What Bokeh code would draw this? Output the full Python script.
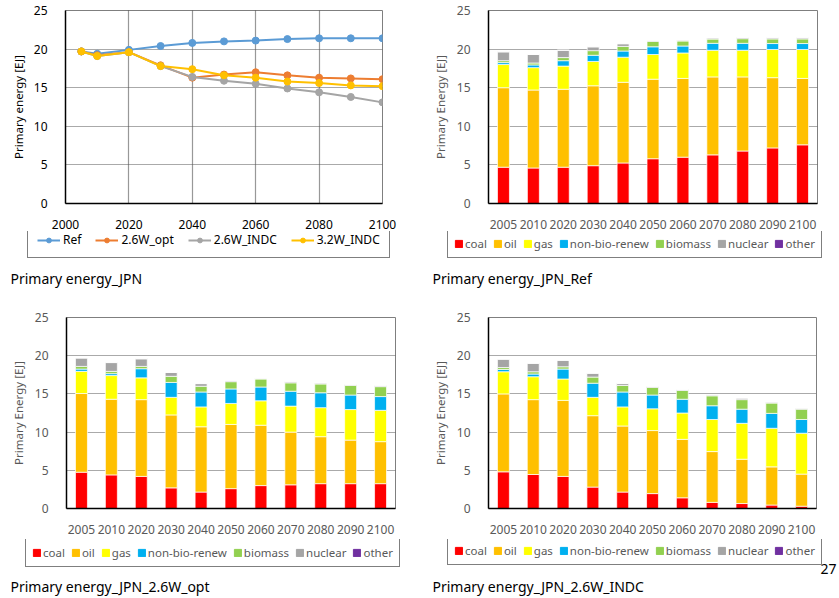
from bokeh.plotting import figure
from bokeh.models import (Legend, LegendItem, Label, FactorRange, Range1d,
                          FixedTicker, ColumnDataSource)
from bokeh.layouts import row, column
from bokeh.embed import file_html
from bokeh.resources import INLINE

FONT = "Noto Sans"
NAN = float("nan")

# ---------------- data ----------------
years = [2005, 2010, 2020, 2030, 2040, 2050, 2060, 2070, 2080, 2090, 2100]
year_labels = ["2005", "2010", "2020", "2030", "2040", "2050",
               "2060", "2070", "2080", "2090", "2100"]

line_names = ["Ref", "2.6W_opt", "2.6W_INDC", "3.2W_INDC"]
line_colors = ["#5B9BD5", "#ED7D31", "#A5A5A5", "#FFC000"]
total_ref = [19.7, 19.4, 19.9, 20.4, 20.8, 21.0, 21.1, 21.3, 21.4, 21.4, 21.4]
total_opt = [19.7, 19.2, 19.6, 17.9, 16.3, 16.7, 17.0, 16.6, 16.3, 16.2, 16.1]
total_indc26 = [19.7, 19.1, 19.6, 17.8, 16.4, 15.9, 15.5, 14.9, 14.4, 13.8, 13.1]
total_indc32 = [19.7, 19.1, 19.6, 17.8, 17.4, 16.6, 16.3, 15.8, 15.6, 15.3, 15.2]

source_labels = ["coal", "oil", "gas", "non-bio-renew", "biomass", "nuclear", "other"]
source_keys = ["coal", "oil", "gas", "nonbio", "biomass", "nuclear", "other"]
source_colors = ["#FF0000", "#FFC000", "#FFFF00", "#00B0F0", "#92D050", "#A5A5A5", "#7030A0"]

ref_coal = [4.7, 4.6, 4.7, 4.9, 5.25, 5.8, 6.0, 6.3, 6.8, 7.2, 7.6]
ref_oil = [10.3, 10.1, 10.1, 10.35, 10.45, 10.3, 10.2, 10.1, 9.6, 9.1, 8.6]
ref_gas = [3.0, 2.9, 3.0, 3.15, 3.25, 3.2, 3.3, 3.45, 3.45, 3.65, 3.75]
ref_nonbio = [0.25, 0.35, 0.7, 0.8, 0.8, 1.0, 0.9, 0.9, 0.9, 0.77, 0.77]
ref_biomass = [0.25, 0.25, 0.4, 0.6, 0.6, 0.7, 0.65, 0.55, 0.6, 0.6, 0.6]
ref_nuclear = [1.15, 1.1, 0.95, 0.5, 0.35, 0.1, 0.12, 0.15, 0.15, 0.15, 0.15]
ref_other = [0, 0, 0, 0, 0, 0, 0, 0, 0, 0, 0]

opt_coal = [4.75, 4.4, 4.2, 2.7, 2.15, 2.6, 3.0, 3.1, 3.25, 3.25, 3.25]
opt_oil = [10.3, 9.9, 10.05, 9.55, 8.55, 8.4, 7.9, 6.9, 6.15, 5.7, 5.5]
opt_gas = [2.9, 3.1, 2.85, 2.3, 2.6, 2.75, 3.2, 3.4, 3.8, 4.0, 4.1]
opt_nonbio = [0.3, 0.25, 1.2, 1.95, 1.95, 1.9, 1.8, 1.95, 1.95, 1.9, 1.8]
opt_biomass = [0.35, 0.3, 0.3, 0.8, 0.75, 0.95, 1.05, 1.1, 1.15, 1.25, 1.3]
opt_nuclear = [1.1, 1.15, 1.0, 0.5, 0.35, 0.13, 0.1, 0.15, 0.13, 0.13, 0.12]
opt_other = [0, 0, 0, 0, 0, 0, 0, 0, 0, 0, 0]

indc_coal = [4.8, 4.45, 4.2, 2.8, 2.15, 1.95, 1.4, 0.8, 0.65, 0.45, 0.3]
indc_oil = [10.2, 9.8, 9.95, 9.35, 8.65, 8.25, 7.65, 6.65, 5.8, 5.0, 4.2]
indc_gas = [2.9, 3.0, 2.8, 2.4, 2.5, 2.85, 3.45, 4.2, 4.7, 5.05, 5.35]
indc_nonbio = [0.3, 0.35, 1.3, 1.85, 1.95, 1.8, 1.8, 1.8, 1.85, 1.95, 1.8]
indc_biomass = [0.25, 0.3, 0.3, 0.8, 0.85, 1.0, 1.15, 1.3, 1.25, 1.35, 1.35]
indc_nuclear = [1.1, 1.1, 0.85, 0.5, 0.25, 0.13, 0.13, 0.13, 0.2, 0.13, 0.13]
indc_other = [0, 0, 0, 0, 0, 0, 0, 0, 0, 0, 0]

y_ticks = [0, 5, 10, 15, 20, 25]
x_ticks = [2000, 2020, 2040, 2060, 2080, 2100]

GRID_COLOR = "#555555"
GRID_DASH = "1 1"


def style_common(p, tick_color, ylabel):
    p.outline_line_color = "#7f7f7f"
    p.outline_line_width = 1
    for ax in (p.xaxis, p.yaxis):
        ax.axis_line_color = "black"
        ax.axis_line_width = 1.5
        ax.major_tick_line_color = None
        ax.minor_tick_line_color = None
        ax.major_label_text_font = FONT
        ax.major_label_text_font_size = "12px"
        ax.major_label_text_color = tick_color
    p.yaxis.ticker = FixedTicker(ticks=y_ticks)
    p.yaxis.axis_label = ylabel
    p.yaxis.axis_label_text_font = FONT
    p.yaxis.axis_label_text_font_size = "11.5px"
    p.yaxis.axis_label_text_font_style = "normal"
    p.yaxis.axis_label_text_color = tick_color
    p.yaxis.axis_label_standoff = 6
    p.yaxis.major_label_standoff = 12
    p.xaxis.major_label_standoff = 10
    p.ygrid.grid_line_color = GRID_COLOR
    p.ygrid.grid_line_dash = GRID_DASH
    p.ygrid.grid_line_width = 1.2
    p.ygrid.ticker = FixedTicker(ticks=[5, 10, 15, 20])
    p.background_fill_color = "white"
    p.border_fill_color = "white"


def strip(width, height):
    """A blank figure (frame = whole figure) holding a legend and a caption."""
    s = figure(width=width, height=height, x_range=Range1d(0, width),
               y_range=Range1d(0, height), output_backend="svg", toolbar_location=None,
               x_axis_type=None, y_axis_type=None,
               min_border_left=0, min_border_right=0, min_border_top=0, min_border_bottom=0)
    s.outline_line_color = None
    s.grid.visible = False
    s.background_fill_color = "white"
    s.border_fill_color = "white"
    return s


def caption(s, text, x, y):
    s.add_layout(Label(x=x, y=y, text=text, text_font=FONT, text_font_size="14px",
                       text_color="black", text_baseline="middle", text_align="left"))


def make_legend(items, loc, font_size, color, gw, gh, standoff, spacing, padding):
    return Legend(items=items, location=loc, orientation="horizontal",
                  label_text_font=FONT, label_text_font_size=font_size,
                  label_text_color=color, glyph_width=gw, glyph_height=gh,
                  label_height=14, label_width=10,
                  label_standoff=standoff, spacing=spacing, padding=padding, margin=0,
                  border_line_color="black", border_line_width=1.2,
                  background_fill_color="white", background_fill_alpha=1)


# ---------------- line chart ----------------
p1 = figure(width=420, height=231, x_range=Range1d(2000, 2100), y_range=Range1d(0, 25),
            output_backend="svg", toolbar_location=None,
            min_border_left=65, min_border_right=38, min_border_top=10, min_border_bottom=28)
style_common(p1, "black", "Primary energy [EJ]")
p1.yaxis.axis_label_standoff = 5
p1.xaxis.ticker = FixedTicker(ticks=x_ticks)
p1.xgrid.ticker = FixedTicker(ticks=[2020, 2040, 2060, 2080])
p1.xgrid.grid_line_color = "#333333"
p1.xgrid.grid_line_dash = GRID_DASH
p1.xgrid.grid_line_width = 1.2

for name, col, vals in zip(line_names, line_colors,
                           [total_ref, total_opt, total_indc26, total_indc32]):
    src = ColumnDataSource(dict(x=years, y=vals))
    p1.line("x", "y", source=src, line_color=col, line_width=2)
    p1.scatter("x", "y", source=src, marker="circle", size=7, fill_color=col, line_color=col)

s1 = strip(420, 69)
items1 = []
for name, col in zip(line_names, line_colors):
    key = ColumnDataSource(dict(x=[NAN], y=[NAN]))   # legend key only, draws nothing
    rl = s1.line("x", "y", source=key, line_color=col, line_width=2)
    rs = s1.scatter("x", "y", source=key, marker="circle", size=7,
                    fill_color=col, line_color=col)
    items1.append(LegendItem(label=name, renderers=[rl, rs]))
s1.add_layout(make_legend(items1, (27, 42), "12px", "black", 23, 12, 3, 14, 9))
caption(s1, "Primary energy_JPN", 10, 22)


# ---------------- bar charts ----------------
def bar_panel(series, width, height, bl, br, bt, bb):
    data = dict(year=year_labels)
    for k, v in zip(source_keys, series):
        data[k] = v
    cds = ColumnDataSource(data)
    p = figure(width=width, height=height, x_range=FactorRange(*year_labels),
               y_range=Range1d(0, 25), output_backend="svg", toolbar_location=None,
               min_border_left=bl, min_border_right=br, min_border_top=bt,
               min_border_bottom=bb)
    style_common(p, "#595959", "Primary Energy [EJ]")
    p.xgrid.visible = False
    p.vbar_stack(source_keys, x="year", width=0.4, color=source_colors,
                 source=cds, line_color="white", line_alpha=0.7, line_width=1)
    return p


def bar_strip(width, height, text, leg_xy, cap_xy):
    s = strip(width, height)
    items = []
    for lab, col in zip(source_labels, source_colors):
        key = ColumnDataSource(dict(x=[NAN], top=[NAN]))   # legend key only
        r = s.vbar(x="x", top="top", width=1, source=key, fill_color=col, line_color=col)
        items.append(LegendItem(label=lab, renderers=[r]))
    s.add_layout(make_legend(items, leg_xy, "11.5px", "#595959", 9, 9, 2, 6, 6))
    caption(s, text, cap_xy[0], cap_xy[1])
    return s


p2 = bar_panel([ref_coal, ref_oil, ref_gas, ref_nonbio, ref_biomass, ref_nuclear, ref_other],
               418, 231, 68, 21, 10, 28)
s2 = bar_strip(418, 69, "Primary energy_JPN_Ref", (27, 42), (12, 22))

p3 = bar_panel([opt_coal, opt_oil, opt_gas, opt_nonbio, opt_biomass, opt_nuclear, opt_other],
               420, 239, 66, 25, 17, 28)
s3 = bar_strip(420, 58, "Primary energy_JPN_2.6W_opt", (25, 30), (10, 11))

p4 = bar_panel([indc_coal, indc_oil, indc_gas, indc_nonbio, indc_biomass, indc_nuclear, indc_other],
               418, 239, 68, 22, 17, 31)
s4 = bar_strip(418, 58, "Primary energy_JPN_2.6W_INDC", (27, 32), (12, 11))
s4.add_layout(Label(x=400, y=29, text="27", text_font=FONT, text_font_size="14px",
                    text_color="black", text_baseline="middle", text_align="left"))

layout = column(row(p1, p2), row(s1, s2), row(p3, p4), row(s3, s4))
open("out.html", "w").write(file_html(layout, INLINE))
